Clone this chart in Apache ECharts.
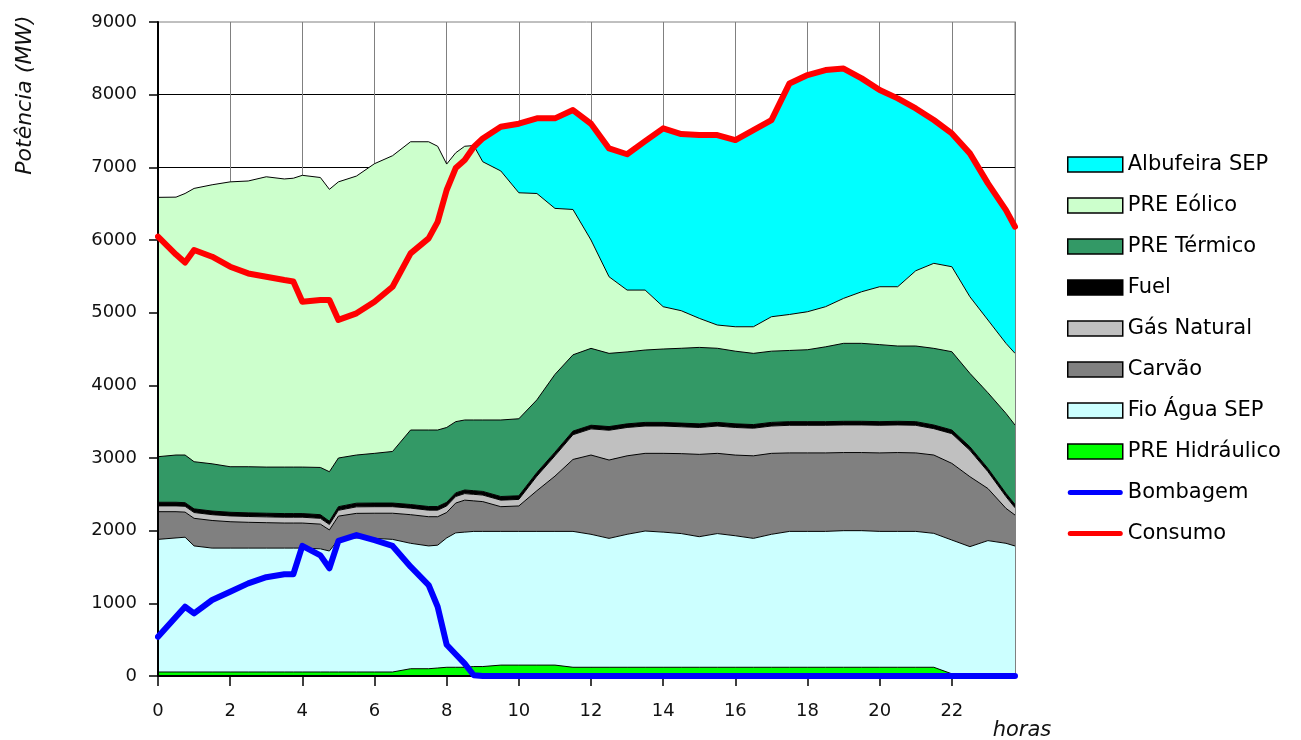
<!DOCTYPE html>
<html>
<head>
<meta charset="utf-8">
<script src="https://cdn.jsdelivr.net/npm/echarts@6/dist/echarts.min.js"></script>
<style>html,body{margin:0;padding:0;background:#fff}#c{width:1301px;height:740px}</style>
</head>
<body>
<div id="c"></div>
<script>
const hours = [0,0.5,0.75,1,1.5,2,2.5,3,3.5,3.75,4,4.5,4.75,5,5.5,6,6.5,7,7.5,7.75,8,8.25,8.5,8.75,9,9.5,10,10.5,11,11.5,12,12.5,13,13.5,14,14.5,15,15.5,16,16.5,17,17.5,18,18.5,19,19.5,20,20.5,21,21.5,22,22.5,23,23.5,23.75];
const xTicks = [0,2,4,6,8,10,12,14,16,18,20,22];

const preHidraulico = [55,55,55,55,55,55,55,55,55,55,55,55,55,55,55,55,55,100,100,110,120,120,120,130,130,150,150,150,150,120,120,120,120,120,120,120,120,120,120,120,120,120,120,120,120,120,120,120,120,120,30,20,20,20,20];
const fioAgua = [1825,1845,1855,1735,1705,1705,1705,1705,1705,1705,1705,1695,1665,1825,1845,1839,1825,1726,1690,1690,1780,1850,1860,1860,1860,1840,1840,1840,1840,1870,1830,1774,1830,1875,1860,1840,1797,1840,1810,1774,1830,1870,1870,1870,1880,1880,1870,1870,1870,1843,1841,1760,1843,1806,1769];
const carvao = [381,361,345,380,380,363,355,350,345,345,345,340,290,320,338,346,360,394,402,392,350,410,440,420,410,340,350,560,760,990,1091,1078,1080,1069,1084,1100,1133,1104,1110,1136,1114,1080,1080,1080,1075,1075,1080,1085,1080,1078,1055,963,717,481,426];
const gasNatural = [80,80,80,80,80,80,80,80,80,80,80,80,75,80,90,90,90,90,90,90,90,90,90,90,90,90,90,200,280,340,360,410,390,376,376,370,370,376,380,380,376,380,380,380,380,380,380,380,380,363,409,362,232,162,100];
const fuel = [50,50,50,50,50,50,50,50,50,50,50,50,45,50,50,50,50,50,50,50,50,50,50,50,50,50,50,50,50,50,50,50,50,50,50,50,50,50,50,50,50,50,50,50,50,50,50,50,50,50,50,50,45,45,45];
const preTermico = [627,650,656,649,650,627,635,635,640,640,640,650,681,670,663,684,710,1025,1053,1053,1030,980,963,973,983,1053,1060,1000,1070,1050,1058,1008,990,996,1010,1030,1052,1020,1000,980,980,980,990,1030,1073,1073,1060,1036,1041,1055,1078,1010,1041,1100,1094];
const preEolico = [3569,3549,3599,3761,3840,3920,3932,3995,3965,3975,4015,3990,3886,3800,3839,3986,4070,3967,3967,3905,3625,3700,3767,3777,3554,3427,3110,2840,2285,2000,1491,1054,851,825,582,517,400,320,336,366,474,495,523,552,619,710,797,816,1036,1170,1169,1054,1001,964,986];
const albufeira = [0,0,0,0,0,0,0,0,0,0,0,0,0,0,0,0,0,0,0,0,0,0,0,0,321,609,950,1034,1239,1368,1600,1766,1869,2049,2454,2431,2522,2614,2569,2706,2706,3180,3257,3256,3163,2936,2706,2592,2234,1972,1835,1973,1880,1834,1743];
const consumo = [6045,5800,5690,5862,5770,5632,5540,5494,5449,5430,5150,5174,5174,4900,4991,5150,5357,5816,6023,6250,6688,6990,7100,7280,7398,7559,7600,7674,7674,7788,7600,7260,7180,7360,7536,7458,7444,7444,7375,7512,7650,8155,8270,8338,8360,8224,8063,7949,7811,7651,7467,7192,6779,6412,6183];
const bombagem = [540,816,953,862,1046,1160,1275,1360,1400,1400,1790,1660,1482,1860,1940,1871,1790,1504,1252,953,430,300,170,10,0,0,0,0,0,0,0,0,0,0,0,0,0,0,0,0,0,0,0,0,0,0,0,0,0,0,0,0,0,0,0];

const FONT = 'DejaVu Sans';
// value first, hour second, so that the stack runs on the value dimension
const pairs = arr => hours.map((h, i) => [arr[i], h]);

const areaDefs = [
  ['PRE Hidráulico', preHidraulico, '#00ff00', 1],
  ['Fio Água SEP', fioAgua, '#ccffff', 1],
  ['Carvão', carvao, '#808080', 1],
  ['Gás Natural', gasNatural, '#c0c0c0', 1],
  ['Fuel', fuel, '#000000', 1],
  ['PRE Térmico', preTermico, '#339966', 1],
  ['PRE Eólico', preEolico, '#ccffcc', 1],
  ['Albufeira SEP', albufeira, '#00ffff', 0]
];

const series = areaDefs.map((d, i) => ({
  name: d[0], type: 'line', stack: 'prod', data: pairs(d[1]),
  encode: { x: 1, y: 0 },
  symbol: 'none', showSymbol: false,
  lineStyle: { color: '#000', width: d[3] },
  itemStyle: { color: d[2] },
  areaStyle: { color: d[2], opacity: 1 },
  z: 12 - i
}));
series.push({
  name: 'Bombagem', type: 'line', data: pairs(bombagem), encode: { x: 1, y: 0 }, symbol: 'none', showSymbol: false,
  lineStyle: { color: '#0000ff', width: 6, cap: 'round', join: 'round' }, itemStyle: { color: '#0000ff' }, z: 20
});
series.push({
  name: 'Consumo', type: 'line', data: pairs(consumo), encode: { x: 1, y: 0 }, symbol: 'none', showSymbol: false,
  lineStyle: { color: '#ff0000', width: 6, cap: 'round', join: 'round' }, itemStyle: { color: '#ff0000' }, z: 21
});

const lineIcon = 'path://M3,0 H63 A3,3 0 0 1 63,6 H3 A3,3 0 0 1 3,0 Z';
const rectItem = (name, color) => ({ name, icon: 'rect', itemStyle: { color, borderColor: '#000', borderWidth: 1.5 } });

const option = {
  animation: false,
  backgroundColor: '#fff',
  grid: { left: 158, right: 286, top: 22, bottom: 64, show: true, borderColor: '#808080', borderWidth: 1, backgroundColor: 'transparent', containLabel: false, outerBoundsMode: 'none' },
  xAxis: [
    { type: 'value', position: 'bottom', min: 0, max: 23.75, interval: 2,
      axisLine: { show: false, onZero: false }, axisTick: { show: false }, axisLabel: { show: false },
      splitLine: { show: true, showMinLine: false, showMaxLine: false, lineStyle: { color: '#808080', width: 1 } }, z: 0 },
    { type: 'value', position: 'bottom', min: 0, max: 23.75, interval: 2,
      axisLine: { show: true, onZero: false, lineStyle: { color: '#000', width: 2 } },
      axisTick: { show: true, length: 10, customValues: xTicks, lineStyle: { color: '#000', width: 1.5 } },
      axisLabel: { customValues: xTicks, margin: 26, fontFamily: FONT, fontSize: 18, color: '#111', formatter: v => String(v) },
      splitLine: { show: false }, z: 15 }
  ],
  yAxis: [
    { type: 'value', position: 'left', min: 0, max: 9000, interval: 1000,
      axisLine: { show: false, onZero: false }, axisTick: { show: false }, axisLabel: { show: false },
      splitLine: { show: true, showMinLine: false, showMaxLine: false, lineStyle: { color: '#000', width: 1 } }, z: 0 },
    { type: 'value', position: 'left', min: 0, max: 9000, interval: 1000,
      axisLine: { show: true, onZero: false, lineStyle: { color: '#000', width: 2 } },
      axisTick: { show: true, length: 9, lineStyle: { color: '#000', width: 1.5 } },
      axisLabel: { margin: 21, fontFamily: FONT, fontSize: 18, color: '#111', formatter: v => String(v) },
      splitLine: { show: false }, z: 15 },
    { type: 'value', position: 'right', min: 0, max: 9000, interval: 1000,
      axisLine: { show: true, onZero: false, lineStyle: { color: '#808080', width: 1 } },
      axisTick: { show: false }, axisLabel: { show: false }, splitLine: { show: false }, z: 15 }
  ],
  legend: {
    orient: 'vertical', left: 1062, top: 149, itemWidth: 55, itemHeight: 15, itemGap: 20,
    selectedMode: false,
    textStyle: { fontFamily: FONT, fontSize: 21, color: '#000' },
    data: [
      rectItem('Albufeira SEP', '#00ffff'),
      rectItem('PRE Eólico', '#ccffcc'),
      rectItem('PRE Térmico', '#339966'),
      rectItem('Fuel', '#000000'),
      rectItem('Gás Natural', '#c0c0c0'),
      rectItem('Carvão', '#808080'),
      rectItem('Fio Água SEP', '#ccffff'),
      rectItem('PRE Hidráulico', '#00ff00'),
      { name: 'Bombagem', icon: lineIcon, itemStyle: { color: '#0000ff', borderWidth: 0 } },
      { name: 'Consumo', icon: lineIcon, itemStyle: { color: '#ff0000', borderWidth: 0 } }
    ]
  },
  graphic: [
    { type: 'text', x: 1022, y: 731, z: 100,
      style: { text: 'horas', fontFamily: FONT, fontStyle: 'italic', fontSize: 21, fill: '#111', align: 'center', verticalAlign: 'middle' } },
    { type: 'text', x: 25, y: 95, rotation: Math.PI / 2, z: 100,
      style: { text: 'Potência (MW)', fontFamily: FONT, fontStyle: 'italic', fontSize: 22, fill: '#111', align: 'center', verticalAlign: 'middle' } }
  ],
  series
};

const chart = echarts.init(document.getElementById('c'), null, { renderer: 'canvas' });
chart.setOption(option);
</script>
</body>
</html>
